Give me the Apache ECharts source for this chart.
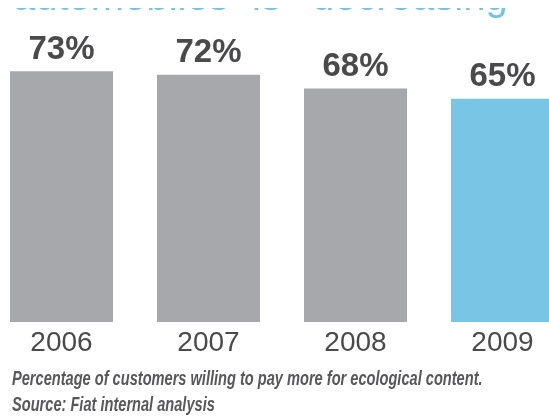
<!DOCTYPE html>
<html>
<head>
<meta charset="utf-8">
<style>
  html, body { margin: 0; padding: 0; background: #ffffff; overflow: hidden; }
  #wrap { position: relative; width: 549px; height: 416px; overflow: hidden; }
  /* the plot runs slightly past both page edges, so the canvas is wider than the page */
  #chart { position: absolute; left: -12px; top: 0; width: 600px; height: 416px; }
</style>
<script src="https://cdn.jsdelivr.net/npm/echarts@6/dist/echarts.min.js"></script>
</head>
<body>
<div id="wrap"><div id="chart"></div></div>
<script>
// Share of customers willing to pay more for ecological content, by year
const years = ['2006', '2007', '2008', '2009'];
const shares = [73, 72, 68, 65];
const highlightYear = '2009';

const headingWords = ['automobiles', 'is', 'decreasing'];
const captionLines = [
  'Percentage of customers willing to pay more for ecological content.',
  'Source: Fiat internal analysis'
];

const GREY = '#a7a8ab';
const BLUE = '#79c5e6';
const INK = '#4a4a4d';
const FONT = '"Liberation Sans", Arial, Helvetica, sans-serif';
const SHIFT = 12; // canvas starts 12px left of the page

const chart = echarts.init(document.getElementById('chart'), null, { renderer: 'canvas' });

const headingX = [13, 252, 312];

chart.setOption({
  animation: false,
  backgroundColor: '#ffffff',
  grid: { left: 0, right: 12, top: 47.2, bottom: 94, containLabel: false },
  xAxis: {
    type: 'category',
    data: years,
    axisLine: { show: false },
    axisTick: { show: false },
    axisLabel: {
      color: INK,
      fontFamily: FONT,
      fontSize: 28,
      margin: 7
    }
  },
  yAxis: {
    type: 'value',
    min: 0,
    max: 80,
    show: false,
    splitLine: { show: false }
  },
  series: [{
    type: 'bar',
    barWidth: 103,
    data: years.map((y, i) => ({
      value: shares[i],
      itemStyle: { color: y === highlightYear ? BLUE : GREY }
    })),
    label: {
      show: true,
      position: 'top',
      distance: 5,
      formatter: p => p.value + '%',
      color: INK,
      fontFamily: FONT,
      fontWeight: 'bold',
      fontSize: 33
    }
  }],
  graphic: [
    ...headingWords.map((w, i) => ({
      type: 'text',
      x: headingX[i] + SHIFT,
      y: -1.5,
      silent: true,
      z: 1,
      style: {
        text: w,
        fill: '#74c3e6',
        font: '40px ' + FONT,
        verticalAlign: 'middle'
      }
    })),
    // white band along the top edge; the heading shows only below it
    {
      type: 'rect',
      silent: true,
      z: 2,
      shape: { x: 0, y: 0, width: 600, height: 8 },
      style: { fill: '#ffffff' }
    },
    ...captionLines.map((line, i) => ({
      type: 'text',
      x: 12 + SHIFT,
      y: 379.5 + i * 26,
      scaleX: 0.73,
      silent: true,
      style: {
        text: line,
        fill: '#58585b',
        font: 'italic bold 20px ' + FONT,
        verticalAlign: 'middle'
      }
    }))
  ]
});
</script>
</body>
</html>
